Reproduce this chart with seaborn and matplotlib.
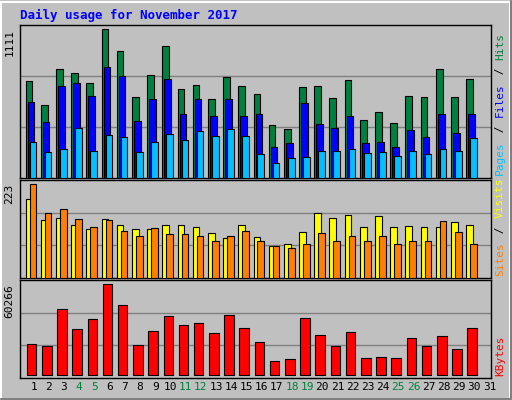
import numpy as np
import pandas as pd
import matplotlib
matplotlib.use("Agg")
import matplotlib.pyplot as plt
import seaborn as sns

days = list(range(1, 32))
hits = [725,543,816,785,710,1111,952,603,770,990,664,694,588,755,687,626,399,369,679,687,596,732,437,497,414,611,603,816,603,740,0]
files = [568,422,687,710,611,831,763,429,588,740,475,588,467,588,467,475,232,263,558,407,376,460,263,270,232,361,308,475,338,482,0]
pages = [270,194,217,376,202,323,308,194,270,331,285,354,316,369,316,179,111,149,157,202,202,217,187,194,164,202,179,217,202,300,0]
visits = [188,138,142,126,116,140,126,116,116,126,126,121,106,94,126,97,75,82,109,155,142,150,121,147,121,123,121,121,133,126,0]
sites = [223,155,164,140,121,138,111,101,118,104,104,99,89,99,111,89,75,72,82,106,87,99,89,101,82,89,89,135,109,80,0]
kbytes = [20535,19210,43718,30470,37094,60266,46368,19872,29146,39082,33120,34445,27821,39744,31133,21859,9274,10598,37757,26496,19210,28483,11261,11923,11261,24509,19210,25834,17222,31133,0]
weekends = [4,5,11,12,18,19,25,26]

BG = "#c0c0c0"
sns.set_theme(style="white")
plt.rcParams['font.family'] = ['DejaVu Sans Mono', 'DejaVu Sans']
fig = plt.figure(figsize=(5.12, 4.0), dpi=100, facecolor=BG)
W, H = 512, 400
def mk(top, bot):
    return fig.add_axes([20/W, 1-bot/H, 471/W, (bot-top)/H], facecolor=BG)
ax1 = mk(25, 178); ax2 = mk(180, 278); ax3 = mk(280, 378)

d = np.array(days)
def bars(ax, vals, off, w, color):
    df = pd.DataFrame({"x": d + off, "y": vals})
    df = df[df.y > 0]
    sns.barplot(data=df, x="x", y="y", native_scale=True, width=w, color=color,
                edgecolor="black", linewidth=0.8, saturation=1, ax=ax, zorder=3)

bars(ax1, hits, 0.09, 0.44, "#008040")
bars(ax1, files, 0.22, 0.44, "#0000ff")
bars(ax1, pages, 0.35, 0.44, "#00c0ff")
bars(ax2, visits, 0.09, 0.44, "#ffff00")
bars(ax2, sites, 0.35, 0.44, "#ff8000")
bars(ax3, kbytes, 0.26, 0.63, "#ff0000")

for ax, ymin, ymax, top in [(ax1, 0, 1144, 1111), (ax2, 0, 233, 223), (ax3, -2000, 62900, 60266)]:
    ax.set_xlim(0.5, 31.5)
    ax.set_ylim(ymin, ymax)
    ax.set_xlabel(""); ax.set_ylabel("")
    for g in (1/3, 2/3):
        ax.axhline(ymin + (ymax-ymin)*g, color="#808080", lw=1, zorder=1)
    ax.set_yticks([]); ax.set_xticks([])
    for s in ax.spines.values():
        s.set_color("black"); s.set_linewidth(1)
    ax.text(-0.012, 1.0 - (ymax-top)/(ymax-ymin), str(top), transform=ax.transAxes,
            rotation=90, ha="right", va="top", fontsize=8, color="black")

ax3.set_xticks(d + 0.4)
ax3.set_xticklabels([str(x) for x in days], fontsize=8)
ax3.tick_params(axis="x", length=0, pad=3)
for lbl, x in zip(ax3.get_xticklabels(), days):
    lbl.set_color("#008040" if x in weekends else "black")

fig.text(20/W, 1-15/H, "Daily usage for November 2017", color="#0000ff",
         fontsize=9, fontweight="bold", va="center", ha="left")

def side(y_bot, parts):
    y = y_bot
    for t, c in parts:
        tx = fig.text(500/W, 1-y/H, t, rotation=90, color=c, fontsize=8, ha="center", va="bottom")
        y -= len(t) * 7.2
side(175, [("Pages", "#00c0ff"), (" / ", "black"), ("Files", "#0000ff"), (" / ", "black"), ("Hits", "#008040")])
side(276, [("Sites", "#ff8000"), (" / ", "black"), ("Visits", "#ffff00")])
side(376, [("KBytes", "#ff0000")])

# 3D frame
fig.add_artist(plt.Rectangle((1/W, 1/H), 1-3/W, 1-3/H, transform=fig.transFigure,
                             fill=False, edgecolor="white", lw=1.5))
fig.add_artist(plt.Line2D([1/W, 1-1/W, 1-1/W], [1/H, 1/H, 1-1/H], transform=fig.transFigure,
                          color="#808080", lw=1.5))
fig.savefig("out.png", dpi=100, facecolor=BG)
